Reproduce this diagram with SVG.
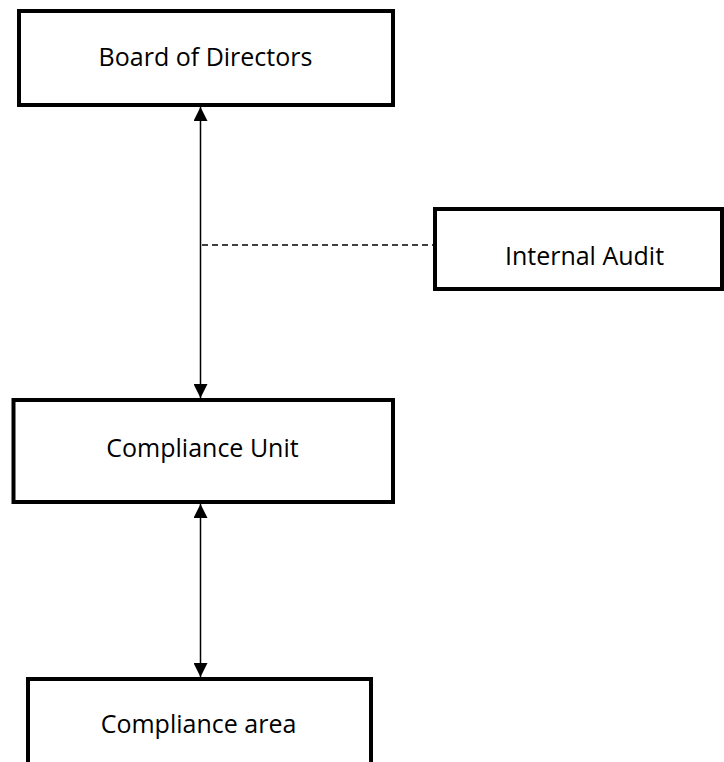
<svg xmlns="http://www.w3.org/2000/svg" width="724" height="762" viewBox="0 0 724 762">
<style>
.box{fill:#fff;stroke:#000;stroke-width:4}
.lbl{font-family:"Open Sans","Liberation Sans",sans-serif;font-size:25px;fill:#000;text-anchor:middle}
.con{stroke:#000;stroke-width:1.5;fill:none}
.dash{stroke:#000;stroke-width:1.5;fill:none;stroke-dasharray:6 4}
</style>
<defs>
<marker id="ah" viewBox="0 0 10 10" refX="10" refY="5" markerWidth="14" markerHeight="14" markerUnits="userSpaceOnUse" orient="auto-start-reverse">
<path d="M0,0 L10,5 L0,10 z" fill="#000"/>
</marker>
</defs>
<g id="connectors">
<line class="con" x1="200.5" y1="107" x2="200.5" y2="398" marker-start="url(#ah)" marker-end="url(#ah)"/>
<line class="con" x1="200.5" y1="504" x2="200.5" y2="677" marker-start="url(#ah)" marker-end="url(#ah)"/>
<line class="dash" x1="202" y1="245" x2="435" y2="245"/>
</g>
<g id="board"><rect class="box" x="19" y="11" width="374" height="94"/><text class="lbl" x="205.5" y="66">Board of Directors</text></g>
<g id="audit"><rect class="box" x="435" y="209" width="287" height="80"/><text class="lbl" x="584.5" y="265">Internal Audit</text></g>
<g id="unit"><rect class="box" x="13.5" y="400" width="379.5" height="102"/><text class="lbl" x="202.5" y="457">Compliance Unit</text></g>
<g id="area"><rect class="box" x="28" y="679" width="343" height="90"/><text class="lbl" x="198.5" y="733">Compliance area</text></g>
</svg>
